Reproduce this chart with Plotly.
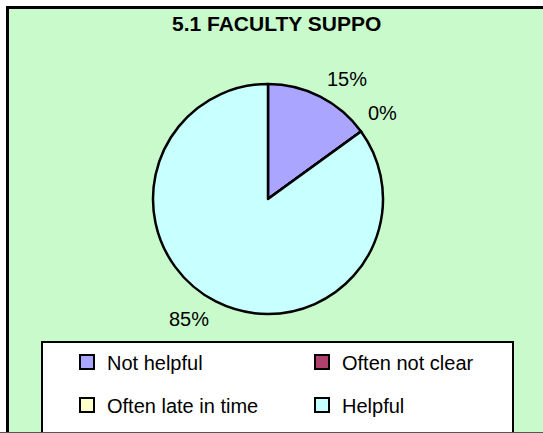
import math
import plotly.graph_objects as go

# Survey shares for section 5.1 (percent of respondents)
categories = ["Not helpful", "Often not clear", "Often late in time", "Helpful"]
shares = [15, 0, 0, 85]
colors = ["#AAA6FF", "#B0406E", "#FFFFCC", "#C8FFFF"]
title_text = "5.1 FACULTY SUPPO"

W, H = 543, 433
FONT = "Liberation Sans, Arial, sans-serif"
BG_GREEN = "#C8FACC"


def px(x):
    return x / W


def py(y):
    return 1 - y / H


# pie geometry in pixels
cx, cy, r = 268, 199, 115
pie_domain = dict(x=[px(cx - r), px(cx + r)], y=[py(cy + r), py(cy - r)])

fig = go.Figure()

fig.add_trace(go.Pie(
    labels=categories,
    values=shares,
    sort=False,
    direction="clockwise",
    rotation=0,
    marker=dict(colors=colors, line=dict(color="black", width=2.5)),
    textinfo="none",
    hoverinfo="label+percent",
    showlegend=False,
    domain=pie_domain,
))

# legend entries: two rows of two
for i, (cat, col) in enumerate(zip(categories, colors)):
    fig.add_trace(go.Scatter(
        x=[None], y=[None], mode="markers", name=cat,
        marker=dict(symbol="square", size=14, color=col,
                    line=dict(color="black", width=2)),
        legend="legend" if i < 2 else "legend2",
        showlegend=True, hoverinfo="skip",
    ))

# percentage labels: set just outside the rim at each slice's mid-angle,
# pushed away from the pie on the side of the quadrant they fall in
total = sum(shares)
annotations = []
seen = set()
cum = 0
for v in shares:
    mid = (cum + v / 2) / total * 360
    cum += v
    pct = f"{round(v / total * 100)}%"
    key = (round(mid, 3), pct)
    if key in seen:
        continue
    seen.add(key)
    a = math.radians(mid)
    ex = cx + r * math.sin(a)
    ey = cy - r * math.cos(a)
    sx = 1 if math.sin(a) >= 0 else -1
    sy = -1 if math.cos(a) >= 0 else 1
    annotations.append(dict(
        x=px(ex + 5 * sx), y=py(ey + 18 * sy), xref="paper", yref="paper",
        text=pct, showarrow=False,
        xanchor="left" if sx > 0 else "right", yanchor="middle",
        font=dict(family=FONT, size=20, color="black"),
    ))

annotations.append(dict(
    x=px(170), y=py(24), xref="paper", yref="paper",
    text=f"<b>{title_text}</b>", showarrow=False,
    xanchor="left", yanchor="middle",
    font=dict(family=FONT, size=21, color="black"),
))

shapes = [
    # chart area frame
    dict(type="rect", xref="paper", yref="paper", layer="below",
         x0=px(7.5), x1=px(W + 20), y0=py(H + 20), y1=py(7.5),
         fillcolor=BG_GREEN, line=dict(color="black", width=3)),
    # legend box
    dict(type="rect", xref="paper", yref="paper", layer="below",
         x0=px(42), x1=px(513), y0=py(H + 20), y1=py(342),
         fillcolor="white", line=dict(color="black", width=2)),
    # bottom edge
    dict(type="line", xref="paper", yref="paper", layer="above",
         x0=0, x1=1, y0=py(432.5), y1=py(432.5),
         line=dict(color="#555555", width=1)),
]

legend_common = dict(
    orientation="h", xanchor="left", yanchor="middle",
    x=px(67), entrywidth=190, entrywidthmode="pixels",
    bgcolor="rgba(0,0,0,0)", borderwidth=0,
    font=dict(family=FONT, size=20, color="black"),
    itemclick=False, itemdoubleclick=False,
)

fig.update_layout(
    width=W, height=H, autosize=False,
    margin=dict(l=0, r=0, t=0, b=0),
    paper_bgcolor="white",
    plot_bgcolor="rgba(0,0,0,0)",
    xaxis=dict(visible=False),
    yaxis=dict(visible=False),
    legend=dict(legend_common, y=py(362)),
    legend2=dict(legend_common, y=py(405)),
    annotations=annotations,
    shapes=shapes,
)

fig.write_html("out.html")
